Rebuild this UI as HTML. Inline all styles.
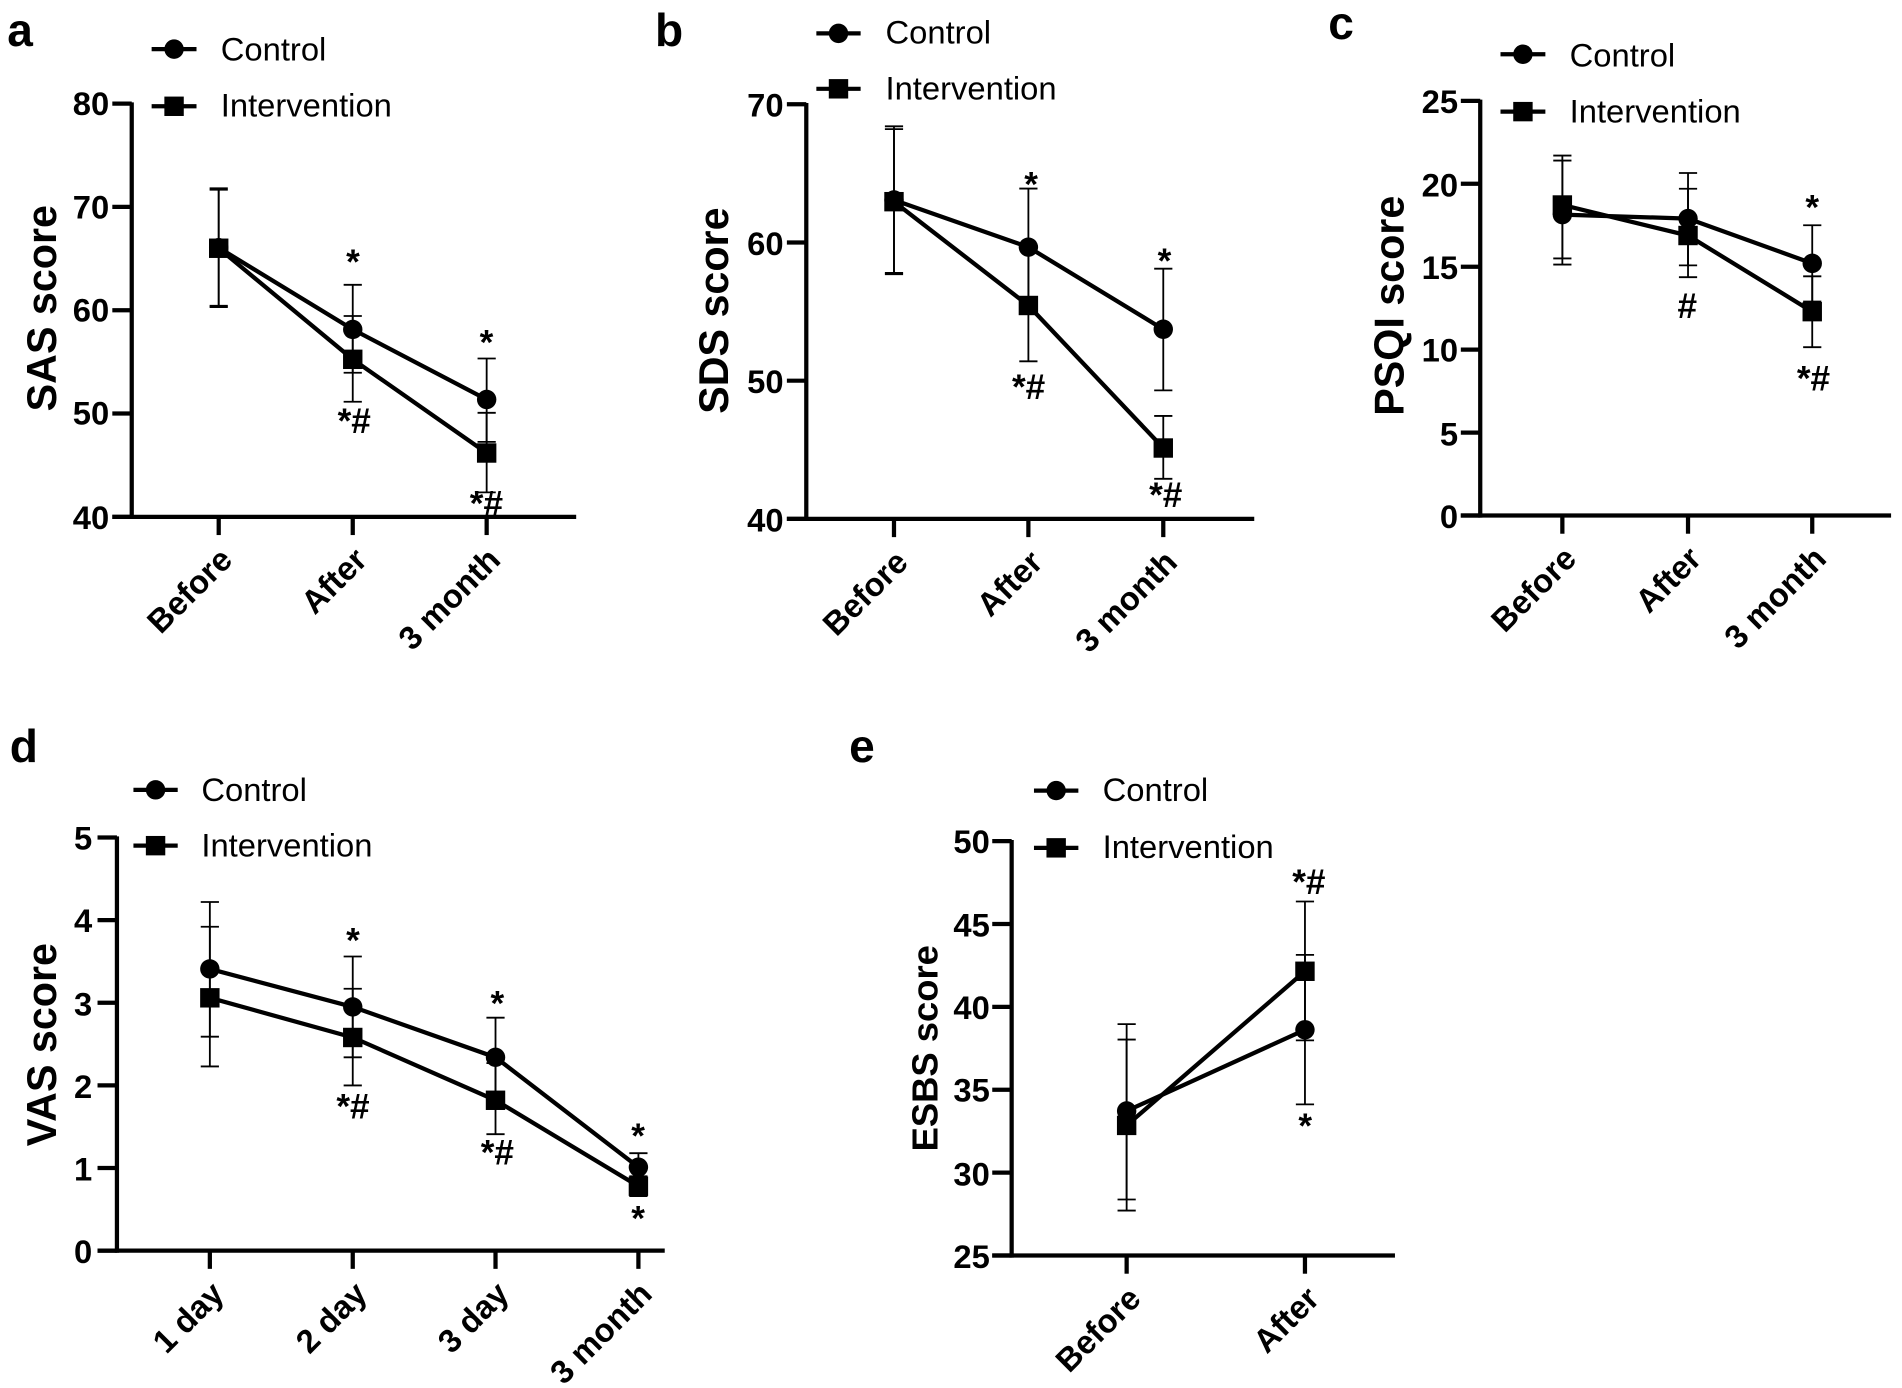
<!DOCTYPE html>
<html><head><meta charset="utf-8"><style>
html,body{margin:0;padding:0;background:#fff;}
svg{display:block;}
text{font-family:"Liberation Sans",Arial,sans-serif;fill:#000;}
.tk{font-size:27px;font-weight:bold;text-anchor:end;}
.cat{font-size:27px;font-weight:bold;text-anchor:end;}
.yl{font-size:34px;font-weight:bold;text-anchor:middle;}
.lg{font-size:27px;}
.pl{font-size:38px;font-weight:bold;}
.an{font-size:29px;font-weight:bold;text-anchor:middle;}
</style></head><body>
<svg id="s" width="1902" height="1388" viewBox="0 0 1568 1144" preserveAspectRatio="none" xmlns="http://www.w3.org/2000/svg">
<g id="g"></g>
<text class="pl" x="6" y="38">a</text>
<text class="pl" x="540" y="38">b</text>
<text class="pl" x="1095" y="32">c</text>
<text class="pl" x="8" y="628">d</text>
<text class="pl" x="700" y="628">e</text>
<text class="lg" x="182" y="50">Control</text><text class="lg" x="182" y="96">Intervention</text>
<text class="lg" x="730" y="36">Control</text><text class="lg" x="730" y="82">Intervention</text>
<text class="lg" x="1294" y="55">Control</text><text class="lg" x="1294" y="101">Intervention</text>
<text class="lg" x="166" y="660">Control</text><text class="lg" x="166" y="706">Intervention</text>
<text class="lg" x="909" y="660">Control</text><text class="lg" x="909" y="707">Intervention</text>
<text class="yl" transform="translate(46,254) rotate(-90)">SAS score</text>
<text class="yl" transform="translate(600,256) rotate(-90)">SDS score</text>
<text class="yl" transform="translate(1157,252) rotate(-90)">PSQI score</text>
<text class="yl" transform="translate(46,861) rotate(-90)">VAS score</text>
<text class="yl" style="font-size:30px" transform="translate(773,864) rotate(-90)">ESBS score</text>
<text class="tk" x="90" y="95">80</text><text class="tk" x="90" y="180">70</text><text class="tk" x="90" y="265">60</text><text class="tk" x="90" y="350">50</text><text class="tk" x="90" y="436">40</text>
<text class="tk" x="646" y="96">70</text><text class="tk" x="646" y="210">60</text><text class="tk" x="646" y="324">50</text><text class="tk" x="646" y="438">40</text>
<text class="tk" x="1202" y="93">25</text><text class="tk" x="1202" y="162">20</text><text class="tk" x="1202" y="230">15</text><text class="tk" x="1202" y="298">10</text><text class="tk" x="1202" y="367">5</text><text class="tk" x="1202" y="435">0</text>
<text class="tk" x="76" y="700">5</text><text class="tk" x="76" y="768">4</text><text class="tk" x="76" y="837">3</text><text class="tk" x="76" y="905">2</text><text class="tk" x="76" y="973">1</text><text class="tk" x="76" y="1041">0</text>
<text class="tk" x="816" y="703">50</text><text class="tk" x="816" y="772">45</text><text class="tk" x="816" y="840">40</text><text class="tk" x="816" y="908">35</text><text class="tk" x="816" y="977">30</text><text class="tk" x="816" y="1045">25</text>
<text class="cat" transform="translate(193,463) rotate(-45)">Before</text>
<text class="cat" transform="translate(304,463) rotate(-45)">After</text>
<text class="cat" transform="translate(414,463) rotate(-45)">3 month</text>
<text class="cat" transform="translate(750,465) rotate(-45)">Before</text>
<text class="cat" transform="translate(861,465) rotate(-45)">After</text>
<text class="cat" transform="translate(972,465) rotate(-45)">3 month</text>
<text class="cat" transform="translate(1301,462) rotate(-45)">Before</text>
<text class="cat" transform="translate(1404,462) rotate(-45)">After</text>
<text class="cat" transform="translate(1507,462) rotate(-45)">3 month</text>
<text class="cat" transform="translate(186,1068) rotate(-45)">1 day</text>
<text class="cat" transform="translate(304,1068) rotate(-45)">2 day</text>
<text class="cat" transform="translate(421,1068) rotate(-45)">3 day</text>
<text class="cat" transform="translate(539,1068) rotate(-45)">3 month</text>
<text class="cat" transform="translate(942,1072) rotate(-45)">Before</text>
<text class="cat" transform="translate(1089,1072) rotate(-45)">After</text>
<text class="an" x="291" y="226">*</text><text class="an" x="292" y="357">*#</text>
<text class="an" x="401" y="292">*</text><text class="an" x="401" y="425">*#</text>
<text class="an" x="850" y="162">*</text><text class="an" x="848" y="329">*#</text>
<text class="an" x="960" y="225">*</text><text class="an" x="961" y="418">*#</text>
<text class="an" x="1494" y="181">*</text><text class="an" x="1391" y="262">#</text><text class="an" x="1495" y="322">*#</text>
<text class="an" x="291" y="785">*</text><text class="an" x="291" y="922">*#</text>
<text class="an" x="410" y="837">*</text><text class="an" x="410" y="960">*#</text>
<text class="an" x="526" y="946">*</text><text class="an" x="526" y="1014">*</text>
<text class="an" x="1079" y="737">*#</text><text class="an" x="1076" y="938">*</text>
</svg>
<script>
var g=document.getElementById('g'),NS='http://www.w3.org/2000/svg';
function el(t,a){var e=document.createElementNS(NS,t);for(var k in a)e.setAttribute(k,a[k]);g.appendChild(e);return e;}
function line(x1,y1,x2,y2,w){el('line',{x1:x1,y1:y1,x2:x2,y2:y2,stroke:'#000','stroke-width':w});}
function panel(p){
 var Y=function(v){return p.yt+(p.vmax-v)/(p.vmax-p.vmin)*(p.yb-p.yt);};
 line(p.ax,p.yt-1,p.ax,p.yb+1.75,3.5);
 line(p.ax-16,p.yb,p.xe,p.yb,3.5);
 p.ticks.forEach(function(v){line(p.ax-16,Y(v),p.ax,Y(v),3.5);});
 p.cats.forEach(function(x){line(x,p.yb,x,p.yb+15,3.5);});
 p.s.forEach(function(s){s.e.forEach(function(e,i){var x=p.cats[i];
   line(x,Y(e[0]),x,Y(e[1]),1.5);line(x-7.5,Y(e[0]),x+7.5,Y(e[0]),1.5);line(x-7.5,Y(e[1]),x+7.5,Y(e[1]),1.5);});});
 p.s.forEach(function(s){var pts=s.v.map(function(v,i){return p.cats[i]+','+Y(v);}).join(' ');
   el('polyline',{points:pts,fill:'none',stroke:'#000','stroke-width':3.5});});
 p.s.forEach(function(s,k){s.v.forEach(function(v,i){var x=p.cats[i],y=Y(v);
   if(k==0)el('circle',{cx:x,cy:y,r:8});else el('rect',{x:x-8,y:y-8,width:16,height:16});});});
 var L=p.leg;line(L[0],L[1],L[2],L[1],3.5);el('circle',{cx:(L[0]+L[2])/2,cy:L[1],r:8});
 line(L[0],L[3],L[2],L[3],3.5);el('rect',{x:(L[0]+L[2])/2-8,y:L[3]-8,width:16,height:16});
}
panel({ax:108.6,yt:85.4,yb:426,vmin:40,vmax:80,xe:475,ticks:[40,50,60,70,80],cats:[180.3,290.8,401.2],leg:[125,40.5,162,87.6],
 s:[{v:[66.05,58.14,51.36],e:[[71.66,60.43],[62.46,53.95],[55.33,47.26]]},
    {v:[66.0,55.25,46.18],e:[[71.8,60.3],[59.44,51.14],[50.07,42.37]]}]});
panel({ax:664.7,yt:85.9,yb:427.7,vmin:40,vmax:70,xe:1034,ticks:[40,50,60,70],cats:[737,847.8,959],leg:[673,27.5,709.5,73.2],
 s:[{v:[63.07,59.66,53.72],e:[[68.2,57.8],[63.9,55.4],[58.1,49.3]]},
    {v:[62.95,55.44,45.13],e:[[68.4,57.7],[59.6,51.4],[47.45,42.9]]}]});
panel({ax:1220.3,yt:83.1,yb:424.9,vmin:0,vmax:25,xe:1559,ticks:[0,5,10,15,20,25],cats:[1288,1391.6,1494],leg:[1237,44.7,1274,92],
 s:[{v:[18.14,17.9,15.2],e:[[21.4,15.13],[20.65,15.08],[17.5,12.9]]},
    {v:[18.72,16.88,12.29],e:[[21.7,15.5],[19.7,14.37],[14.42,10.15]]}]});
panel({ax:96.4,yt:690.3,yb:1030.8,vmin:0,vmax:5,xe:548,ticks:[0,1,2,3,4,5],cats:[173,290.8,408.5,526.3],leg:[110,651,146.5,697],
 s:[{v:[3.41,2.95,2.34,1.01],e:[[4.22,2.59],[3.56,2.34],[2.82,1.86],[1.18,0.84]]},
    {v:[3.06,2.58,1.82,0.78],e:[[3.92,2.23],[3.17,2.0],[2.27,1.41],[0.9,0.66]]}]});
panel({ax:834,yt:693.3,yb:1034.8,vmin:25,vmax:50,xe:1150,ticks:[25,30,35,40,45,50],cats:[928.8,1075.8],leg:[852.4,651.6,889,698.8],
 s:[{v:[33.72,38.62],e:[[38.96,28.38],[43.14,34.12]]},
    {v:[32.85,42.15],e:[[38.03,27.71],[46.36,37.98]]}]});
</script>
</body></html>
